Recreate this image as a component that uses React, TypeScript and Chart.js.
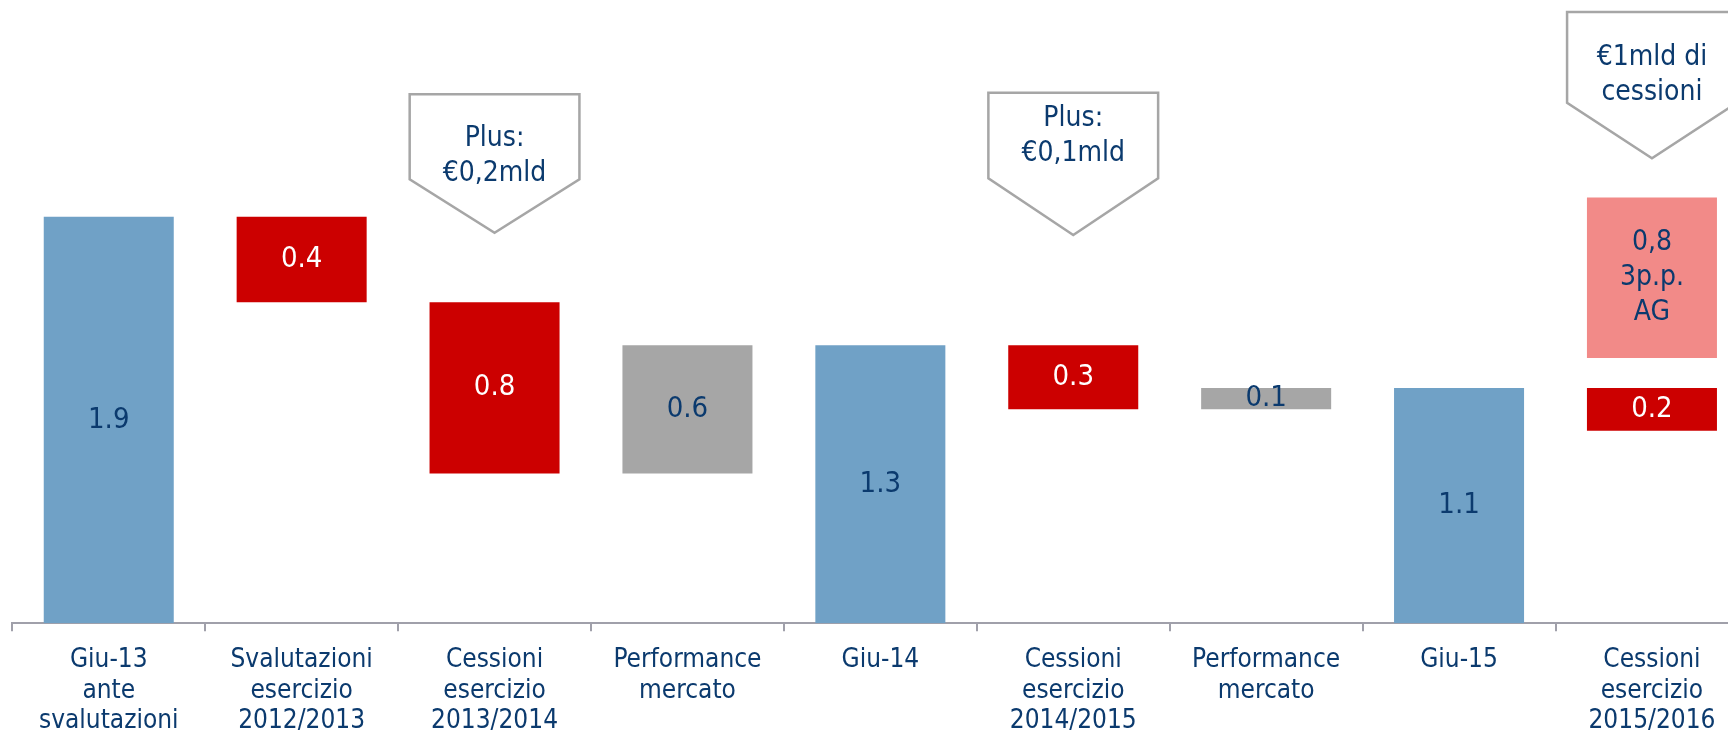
import React, { useEffect, useRef } from "react";
import { Chart, registerables } from "chart.js";

Chart.register(...registerables);

const categories: string[][] = [
  ["Giu-13", "ante", "svalutazioni"],
  ["Svalutazioni", "esercizio", "2012/2013"],
  ["Cessioni", "esercizio", "2013/2014"],
  ["Performance", "mercato"],
  ["Giu-14"],
  ["Cessioni", "esercizio", "2014/2015"],
  ["Performance", "mercato"],
  ["Giu-15"],
  ["Cessioni", "esercizio", "2015/2016"],
];

const barLow = [0, 1.5, 0.7, 0.7, 0, 1.0, 1.0, 0, 0.9];
const barHigh = [1.9, 1.9, 1.5, 1.3, 1.3, 1.3, 1.1, 1.1, 1.1];
const barLabels = ["1.9", "0.4", "0.8", "0.6", "1.3", "0.3", "0.1", "1.1", "0.2"];
const barKinds = ["total", "down", "down", "perf", "total", "down", "perf", "total", "down"];

const extraCategoryIndex = 8;
const extraLow = 1.24;
const extraHigh = 1.99;
const extraLabel = ["0,8", "3p.p.", "AG"];

const calloutCategories = [2, 5, 8];
const calloutLines = [
  ["Plus:", "€0,2mld"],
  ["Plus:", "€0,1mld"],
  ["€1mld di", "cessioni"],
];
const calloutTop = [2.473, 2.48, 2.857];
const calloutNeck = [2.075, 2.08, 2.433];
const calloutTip = [1.825, 1.815, 2.173];
const calloutTextAt = [2.264, 2.357, 2.644];

const FONT = "'DejaVu Sans Condensed', 'DejaVu Sans', sans-serif";
const NAVY = "#0B3A6E";
const kindColor: Record<string, string> = {
  total: "#70A1C6",
  down: "#CC0000",
  perf: "#A6A6A6",
};
const kindText: Record<string, string> = {
  total: NAVY,
  down: "#FFFFFF",
  perf: NAVY,
};

const labelPlugin = {
  id: "labelsAndCallouts",
  afterDatasetsDraw(chart: any) {
    const ctx = chart.ctx;
    ctx.save();
    ctx.textAlign = "center";
    ctx.textBaseline = "middle";
    ctx.font = `29px ${FONT}`;
    const meta0 = chart.getDatasetMeta(0);
    meta0.data.forEach((el: any, i: number) => {
      const cy = (el.y + el.base) / 2;
      ctx.fillStyle = kindText[barKinds[i]];
      ctx.fillText(barLabels[i], el.x, cy);
    });
    const meta1 = chart.getDatasetMeta(1);
    const ex = meta1.data[extraCategoryIndex] as any;
    if (ex) {
      const cy = (ex.y + ex.base) / 2;
      const lh = 35;
      ctx.font = `28px ${FONT}`;
      ctx.fillStyle = NAVY;
      extraLabel.forEach((t, k) => {
        ctx.fillText(t, ex.x, cy + (k - (extraLabel.length - 1) / 2) * lh);
      });
    }
    const xs = chart.scales.x;
    const ys = chart.scales.y;
    const catW = chart.chartArea.width / categories.length;
    calloutCategories.forEach((ci, k) => {
      const cx = xs.getPixelForValue(ci);
      const half = catW * 0.44;
      const top = ys.getPixelForValue(calloutTop[k]);
      const neck = ys.getPixelForValue(calloutNeck[k]);
      const tip = ys.getPixelForValue(calloutTip[k]);
      ctx.beginPath();
      ctx.moveTo(cx - half, top);
      ctx.lineTo(cx + half, top);
      ctx.lineTo(cx + half, neck);
      ctx.lineTo(cx, tip);
      ctx.lineTo(cx - half, neck);
      ctx.closePath();
      ctx.fillStyle = "#FFFFFF";
      ctx.fill();
      ctx.lineWidth = 2.5;
      ctx.strokeStyle = "#A6A6A6";
      ctx.stroke();
      ctx.fillStyle = NAVY;
      ctx.font = `28px ${FONT}`;
      const ty = ys.getPixelForValue(calloutTextAt[k]);
      calloutLines[k].forEach((t, j) => {
        ctx.fillText(t, cx, ty + j * 35);
      });
    });
    ctx.restore();
  },
};

export default function App() {
  const ref = useRef<HTMLCanvasElement | null>(null);
  useEffect(() => {
    if (!ref.current) return;
    const mainData = barLow.map((lo, i) => [lo, barHigh[i]]);
    const extraData: any[] = categories.map((_, i) =>
      i === extraCategoryIndex ? [extraLow, extraHigh] : null
    );
    const chart = new Chart(ref.current, {
      type: "bar",
      data: {
        labels: categories,
        datasets: [
          {
            data: mainData as any,
            backgroundColor: barKinds.map((k) => kindColor[k]),
            borderWidth: 0,
            grouped: false,
            barPercentage: 0.674,
            categoryPercentage: 1,
          } as any,
          {
            data: extraData,
            backgroundColor: "#F28A88",
            borderWidth: 0,
            grouped: false,
            barPercentage: 0.674,
            categoryPercentage: 1,
          } as any,
        ],
      },
      options: {
        animation: false,
        responsive: false,
        maintainAspectRatio: false,
        layout: { padding: { left: 12.3, right: 11.6, top: 0, bottom: 0 } },
        plugins: { legend: { display: false }, tooltip: { enabled: false } },
        scales: {
          x: {
            afterFit: (scale: any) => {
              scale.height = 106.7;
            },
            grid: {
              offset: true,
              drawOnChartArea: false,
              drawTicks: true,
              tickLength: 8,
              color: "#A0A0AA",
              lineWidth: 2,
            },
            border: { display: true, color: "#A0A0AA", width: 2 },
            ticks: {
              color: NAVY,
              font: { family: FONT, size: 26, lineHeight: 1.17 },
              padding: 14,
              maxRotation: 0,
              autoSkip: false,
            },
          },
          y: {
            display: false,
            min: 0,
            max: 2.913,
          },
        },
      },
      plugins: [labelPlugin],
    });
    return () => chart.destroy();
  }, []);
  return (
    <div
      style={{
        position: "fixed",
        left: 0,
        top: 0,
        width: 1728,
        height: 730,
        overflow: "hidden",
        background: "#FFFFFF",
      }}
    >
      <canvas ref={ref} width={1760} height={730} style={{ width: 1760, height: 730, display: "block" }} />
    </div>
  );
}
